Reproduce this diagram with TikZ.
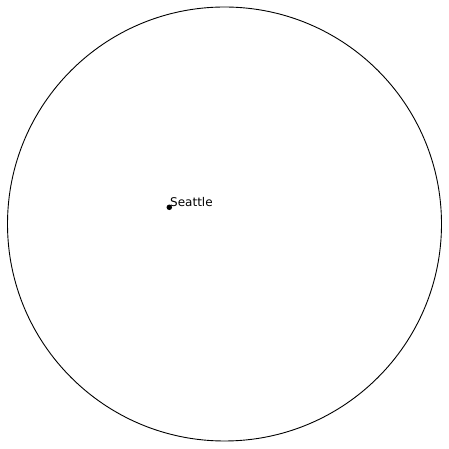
\documentclass[tikz,border=0pt]{standalone}
\usepackage{fontspec}
\setmainfont{DejaVu Sans}
\tikzset{
  ring/.style={draw=black, line width=0.9pt},
  citydot/.style={circle, fill=black, inner sep=0pt, minimum size=5.5pt},
  citylabel/.style={anchor=base west, inner sep=0pt, font=\fontsize{12pt}{14pt}\selectfont}
}
\begin{document}
\begin{tikzpicture}[x=1pt,y=1pt]
\useasboundingbox (0,0) rectangle (449,449);
\node[ring, circle, minimum size=434pt, inner sep=0pt] (world) at (224.5,225) {};
\node[citydot] (seattle) at (169.3,241.7) {};
\node[citylabel] (seattlelabel) at (170,242.5) {Seattle};
\end{tikzpicture}
\end{document}
